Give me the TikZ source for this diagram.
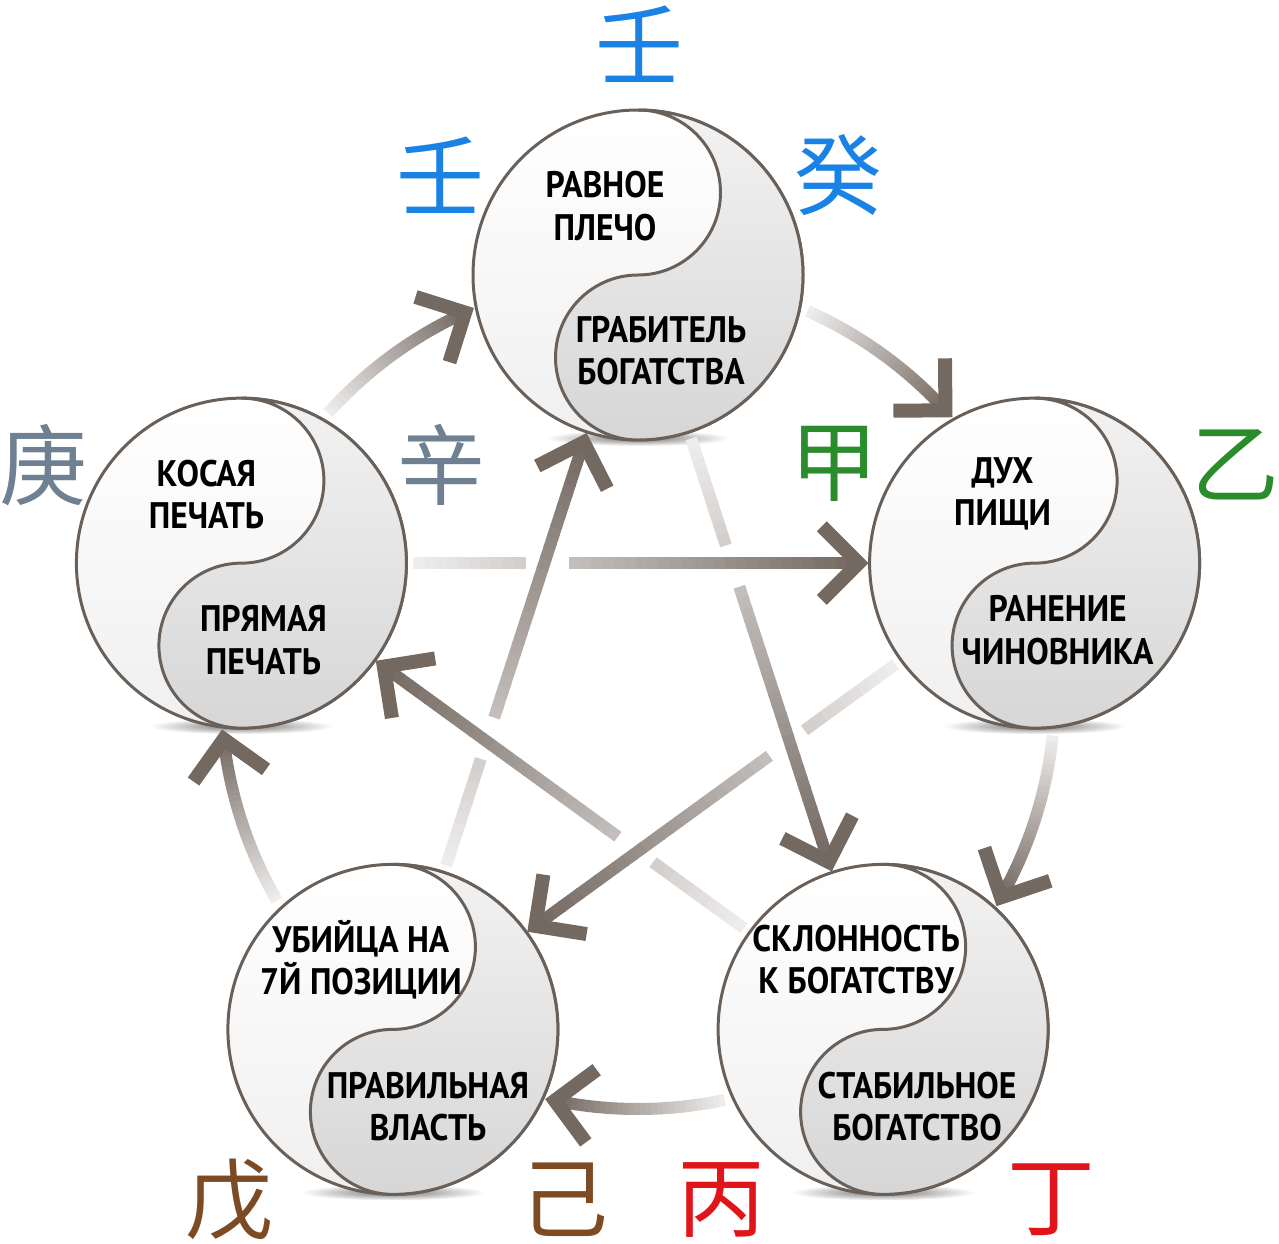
\documentclass[tikz,border=0pt]{standalone}
\usepackage{fontspec}
\setmainfont{PT Sans}[FakeStretch=0.91]
\newfontfamily\cjk{Noto Sans CJK SC}
\usetikzlibrary{calc,positioning}

\definecolor{rim}{RGB}{105,96,90}
\definecolor{arrowdark}{RGB}{116,105,97}
\definecolor{waterblue}{RGB}{25,130,228}
\definecolor{metalgrey}{RGB}{110,128,145}
\definecolor{woodgreen}{RGB}{42,140,42}
\definecolor{earthbrown}{RGB}{125,75,35}
\definecolor{firered}{RGB}{225,20,25}

\tikzset{
  yylabel/.style={align=center, inner sep=0pt,
        font=\fontsize{10.5}{12}\selectfont\bfseries},
  stem/.style={inner sep=0pt, font=\fontsize{25}{25}\selectfont\cjk},
  flow/.style={line width=1.2mm},
  tiphead/.style={line width=1.4mm, draw=arrowdark, line join=miter},
}

% straight arrow, light at the tail, dark at the head, gap between #3 and #4
\newcommand{\gradline}[4]{%
  \foreach \i in {0,...,39}{%
    \pgfmathsetmacro{\fa}{\i/40}%
    \pgfmathsetmacro{\fb}{(\i+1.1)/40}%
    \pgfmathtruncatemacro{\mix}{12+88*\i/39}%
    \pgfmathtruncatemacro{\ingap}{and(\fa+0.0125>#3, \fa+0.0125<#4)}%
    \ifnum\ingap=0
      \draw[flow, draw=arrowdark!\mix!white] ($(#1)!\fa!(#2)$) -- ($(#1)!\fb!(#2)$);
    \fi
  }%
  \draw[tiphead] ($(#2)!0.52cm!45:(#1)$) -- (#2) -- ($(#2)!0.52cm!-45:(#1)$);
}

% arrow along the outer ring, clockwise from angle #1 to angle #2
\newcommand{\gradarc}[2]{%
  \foreach \i in {0,...,29}{%
    \pgfmathsetmacro{\aa}{#1+(#2-#1)*\i/30}%
    \pgfmathsetmacro{\ab}{#1+(#2-#1)*(\i+1.1)/30}%
    \pgfmathtruncatemacro{\mix}{12+88*\i/29}%
    \draw[flow, draw=arrowdark!\mix!white] ([shift={(\aa:4.17)}]c)
        arc[start angle=\aa, end angle=\ab, radius=4.17];
  }%
  \coordinate (tipend) at ([shift={(#2:4.17)}]c);
  \coordinate (tipback) at ([shift={({#2+6}:4.17)}]c);
  \draw[tiphead] ($(tipend)!0.52cm!45:(tipback)$) -- (tipend)
        -- ($(tipend)!0.52cm!-45:(tipback)$);
}

\begin{document}
\begin{tikzpicture}
    \useasboundingbox (0,0) rectangle (12.79,12.43);
    \coordinate (c) at (6.38,5.51);
    \foreach \n/\a in {t/90, r/18, br/-54, bl/-126, l/162}
        \coordinate (\n) at ($(c)+(\a:4.17)$);

    % yin-yang discs
    \foreach \n in {t,r,br,bl,l}{
        \shade[inner color=black!55, outer color=white]
            ($(\n)+(0,-1.63)$) ellipse[x radius=0.92, y radius=0.08];
        \shade[top color=white, bottom color=black!6, draw=rim, line width=0.85pt]
            (\n) circle[radius=1.65];
        \shade[top color=black!5, bottom color=black!16, draw=rim, line width=0.85pt]
            ($(\n)+(0,1.65)$) arc[start angle=90, end angle=-90, radius=1.65]
            arc[start angle=-90, end angle=-270, radius=0.825]
            arc[start angle=-90, end angle=90, radius=0.825] -- cycle;
    }

    % outer cycle
    \gradarc{138}{114.5}
    \gradarc{66}{42.5}
    \gradarc{-6}{-29.5}
    \gradarc{-78}{-101.5}
    \gradarc{-150}{-173.5}

    % star
    \coordinate (lr0) at ($(l)!1.72cm!(r)$);
    \coordinate (lr1) at ($(r)!1.76cm!(l)$);
    \coordinate (tbr0) at ($(t)!1.72cm!(br)$);
    \coordinate (tbr1) at ($(br)!1.76cm!(t)$);
    \coordinate (rbl0) at ($(r)!1.72cm!(bl)$);
    \coordinate (rbl1) at ($(bl)!1.76cm!(r)$);
    \coordinate (brl0) at ($(br)!1.72cm!(l)$);
    \coordinate (brl1) at ($(l)!1.76cm!(br)$);
    \coordinate (blt0) at ($(bl)!1.72cm!(t)$);
    \coordinate (blt1) at ($(t)!1.76cm!(bl)$);
    \gradline{lr0}{lr1}{0.245}{0.344}
    \gradline{tbr0}{tbr1}{0.245}{0.344}
    \gradline{rbl0}{rbl1}{0.245}{0.344}
    \gradline{brl0}{brl1}{0.245}{0.344}
    \gradline{blt0}{blt1}{0.245}{0.344}

    % texts in the discs
    \node[yylabel] (t-up) at ($(t)+(-0.33,0.69)$) {РАВНОЕ\\ПЛЕЧО};
    \node[yylabel] (t-dn) at ($(t)+(0.23,-0.76)$) {ГРАБИТЕЛЬ\\БОГАТСТВА};
    \node[yylabel] (r-up) at ($(r)+(-0.32,0.69)$) {ДУХ\\ПИЩИ};
    \node[yylabel] (r-dn) at ($(r)+(0.23,-0.67)$) {РАНЕНИЕ\\ЧИНОВНИКА};
    \node[yylabel] (l-up) at ($(l)+(-0.35,0.69)$) {КОСАЯ\\ПЕЧАТЬ};
    \node[yylabel] (l-dn) at ($(l)+(0.22,-0.77)$) {ПРЯМАЯ\\ПЕЧАТЬ};
    \node[yylabel] (bl-up) at ($(bl)+(-0.32,0.70)$) {УБИЙЦА НА\\7Й ПОЗИЦИИ};
    \node[yylabel] (bl-dn) at ($(bl)+(0.35,-0.77)$) {ПРАВИЛЬНАЯ\\ВЛАСТЬ};
    \node[yylabel] (br-up) at ($(br)+(-0.27,0.70)$) {СКЛОННОСТЬ\\К БОГАТСТВУ};
    \node[yylabel] (br-dn) at ($(br)+(0.34,-0.77)$) {СТАБИЛЬНОЕ\\БОГАТСТВО};

    % heavenly stems
    \node[stem, text=waterblue] (ren-top) at (6.39,11.99) {壬};
    \node[stem, text=waterblue] (ren) at (4.40,10.68) {壬};
    \node[stem, text=waterblue] (gui) at (8.38,10.68) {癸};
    \node[stem, text=metalgrey] (geng) at (0.43,7.78) {庚};
    \node[stem, text=metalgrey] (xin) at (4.41,7.78) {辛};
    \node[stem, text=woodgreen] (jia) at (8.34,7.79) {甲};
    \node[stem, text=woodgreen] (yi) at (12.35,7.78) {乙};
    \node[stem, text=earthbrown] (wu) at (2.29,0.43) {戊};
    \node[stem, text=earthbrown] (ji) at (5.64,0.43) {己};
    \node[stem, text=firered] (bing) at (7.21,0.43) {丙};
    \node[stem, text=firered] (ding) at (10.51,0.43) {丁};
\end{tikzpicture}
\end{document}
